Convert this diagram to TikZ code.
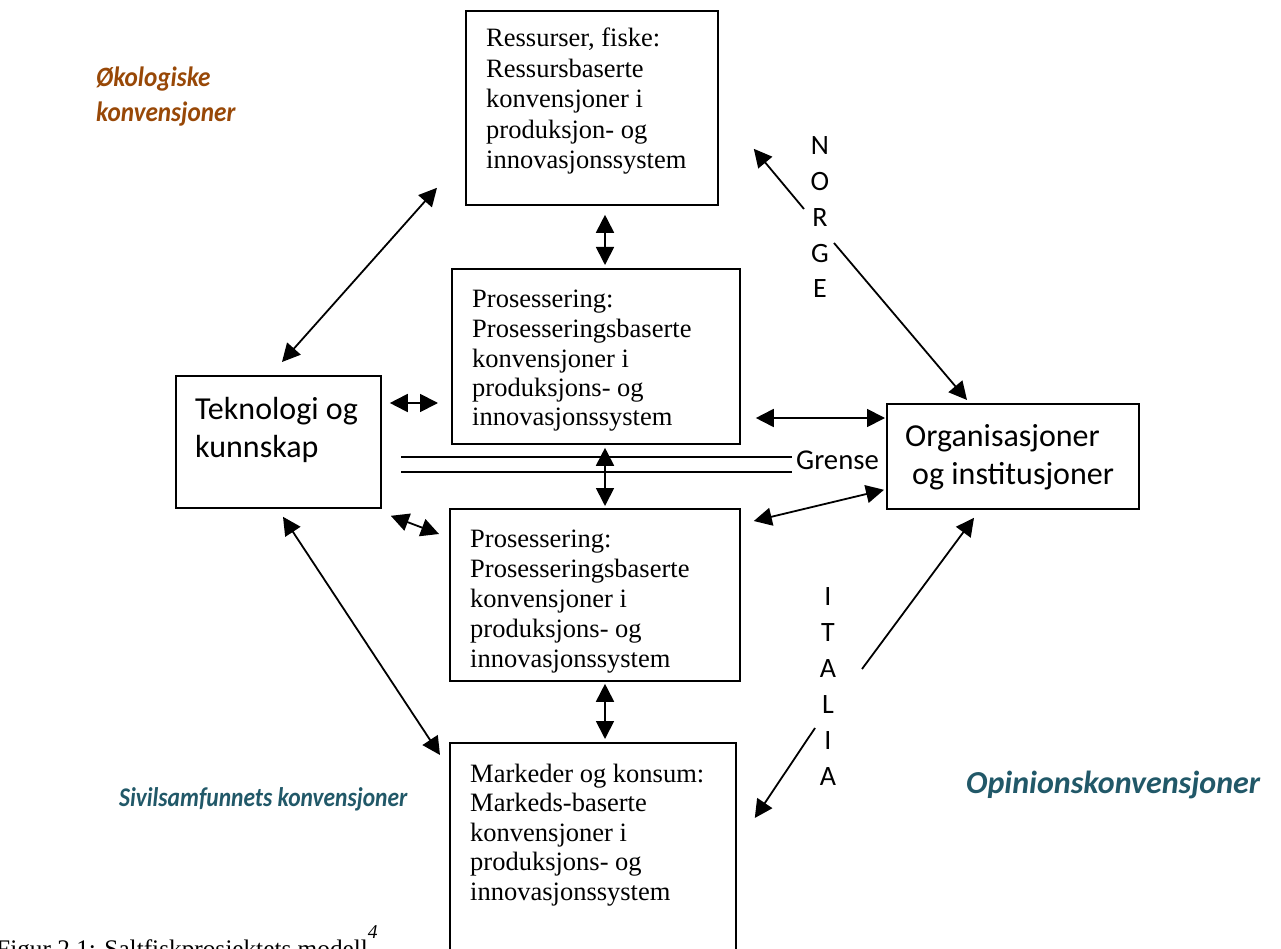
\documentclass[tikz,border=0pt]{standalone}
\usepackage{fontspec}
\usepackage{graphicx}
\setmainfont{Liberation Serif}
\newfontfamily\calibri{Carlito}
\usetikzlibrary{arrows.meta,calc}
\definecolor{ecobrown}{HTML}{984807}
\definecolor{opinteal}{HTML}{215868}
\newcommand{\leftlines}[1]{\begin{tabular}[t]{@{}l@{}}#1\end{tabular}}
\newcommand{\midlines}[1]{\begin{tabular}[t]{@{}c@{}}#1\end{tabular}}
\begin{document}
\begin{tikzpicture}[x=1pt,y=-1pt,
  boxstyle/.style={draw, line width=1.8pt, inner sep=0pt, anchor=north west},
  tip/.tip={Triangle[length=18pt,width=18pt]},
  conn/.style={line width=1.8pt, tip-tip},
  oneway/.style={line width=1.8pt, -tip},
  serif/.style={font=\fontsize{26.5}{30.5}\selectfont, inner sep=0pt, anchor=base west},
  sans/.style={font=\calibri\fontsize{32}{38}\selectfont, inner sep=0pt, anchor=base west},
  letters/.style={font=\calibri\fontsize{28}{35.7}\selectfont, inner sep=0pt, anchor=base},
  conv/.style={font=\calibri\bfseries\itshape\fontsize{28}{35}\selectfont, inner sep=0pt, anchor=base west},
  border/.style={line width=1.4pt}
]
\useasboundingbox (0,0) rectangle (1281,949);

% boxes
\node[boxstyle, minimum width=252pt, minimum height=194pt] (res) at (465,10) {};
\node[boxstyle, minimum width=288pt, minimum height=175pt] (pro1) at (451,268) {};
\node[boxstyle, minimum width=290pt, minimum height=172pt] (pro2) at (449,508) {};
\node[boxstyle, minimum width=286pt, minimum height=260pt] (mark) at (449,742) {};
\node[boxstyle, minimum width=205pt, minimum height=132pt] (tek) at (175,375) {};
\node[boxstyle, minimum width=252pt, minimum height=105pt] (org) at (886,403) {};

% box texts
\node[serif] (restext) at (486,47) {\leftlines{Ressurser, fiske:\\Ressursbaserte\\konvensjoner i\\produksjon- og\\innovasjonssystem}};
\node[serif, font=\fontsize{26.5}{29.5}\selectfont] (pro1text) at (472,308) {\leftlines{Prosessering:\\Prosesseringsbaserte\\konvensjoner i\\produksjons- og\\innovasjonssystem}};
\node[serif, font=\fontsize{26.5}{30}\selectfont] (pro2text) at (470,547) {\leftlines{Prosessering:\\Prosesseringsbaserte\\konvensjoner i\\produksjons- og\\innovasjonssystem}};
\node[serif, font=\fontsize{26.5}{29.5}\selectfont] (marktext) at (470,782) {\leftlines{Markeder og konsum:\\Markeds-baserte\\konvensjoner i\\produksjons- og\\innovasjonssystem}};
\node[sans] (tektext) at (195,419) {\leftlines{Teknologi og\\kunnskap}};
\node[sans] (orgtext) at (905,446) {\leftlines{Organisasjoner\\\hspace{7pt}og institusjoner}};

% vertical country labels
\node[letters] (norge) at (820,155) {\midlines{N\\O\\R\\G\\E}};
\node[letters, font=\calibri\fontsize{28}{36}\selectfont] (italia) at (828,605) {\midlines{I\\T\\A\\L\\I\\A}};

% border (Grense)
\node[sans, font=\calibri\fontsize{28.7}{34}\selectfont] (grense) at (796,469) {Grense};
\coordinate (g1a) at (401,457);
\coordinate (g1b) at (792,457);
\coordinate (g2a) at (401,472);
\coordinate (g2b) at (792,472);
\draw[border] (g1a) -- (g1b);
\draw[border] (g2a) -- (g2b);

% convention labels
\node[conv, text=ecobrown] (eko) at (96,87) {\scalebox{0.9}[1]{\leftlines{Økologiske\\konvensjoner}}};
\node[conv, text=opinteal, font=\calibri\bfseries\itshape\fontsize{27}{30}\selectfont] (sivil) at (119,806) {\scalebox{0.87}[1]{Sivilsamfunnets konvensjoner}};
\node[conv, text=opinteal, font=\calibri\bfseries\itshape\fontsize{32}{36}\selectfont] (opin) at (966,793) {Opinionskonvensjoner};

% connectors
\draw[conn] ($(res.south west)+(-28,-18)$) -- ($(tek.north west)+(107,-13)$);
\draw[conn] ($(res.south west)+(140,9)$) -- ($(pro1.north west)+(154,-3)$);
\draw[conn] ($(tek.north east)+(8,28)$) -- ($(pro1.north west)+(-13,135)$);
\draw[conn] ($(tek.south east)+(9,7)$) -- ($(pro2.north west)+(-10,26)$);
\draw[conn] ($(tek.south west)+(108,8)$) -- ($(mark.north west)+(-9,13)$);
\draw[conn] ($(pro1.north east)+(15,150)$) -- ($(org.north west)+(-1,15)$);
\draw[conn] ($(pro2.north east)+(13,13)$) -- ($(org.south west)+(-2,-20)$);
\draw[conn] ($(pro1.south west)+(154,3)$) -- ($(pro2.north west)+(156,-2)$);
\draw[conn] ($(pro2.south west)+(156,2)$) -- ($(mark.north west)+(156,-3)$);

% NORGE arrow (interrupted by the letters)
\coordinate (n1) at (804,209);
\coordinate (n2) at (834,243);
\draw[oneway] (n1) -- ($(res.south east)+(35,-57)$);
\draw[oneway] (n2) -- ($(org.north west)+(81,-3)$);

% ITALIA arrow (interrupted by the letters)
\coordinate (i1) at (862,669);
\coordinate (i2) at (815,728);
\draw[oneway] (i1) -- ($(org.south west)+(88,8)$);
\draw[oneway] (i2) -- ($(mark.north east)+(18,76)$);

% caption
\node[serif, font=\fontsize{25.3}{30}\selectfont] (caption) at (-4,957) {Figur 2.1: Saltfiskprosjektets modell\raisebox{19pt}{\fontsize{19.5}{20}\selectfont\textit{4}}};
\end{tikzpicture}
\end{document}
